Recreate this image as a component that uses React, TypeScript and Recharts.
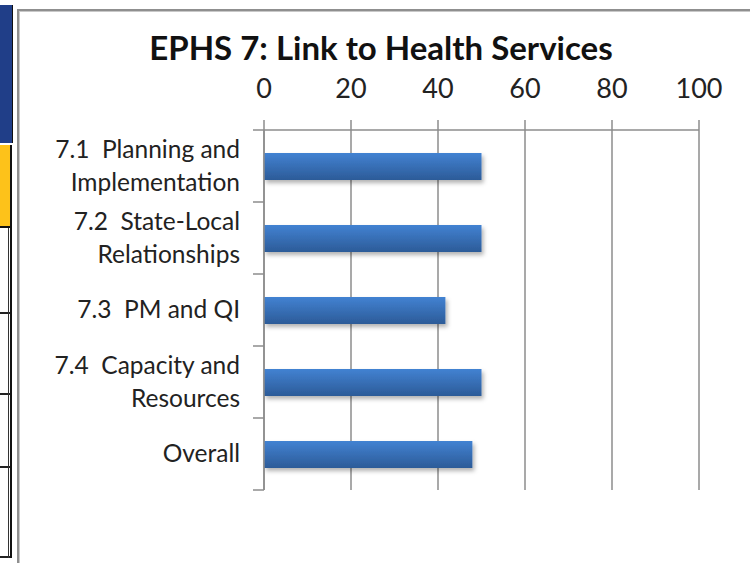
import React from "react";
import { Bar, BarChart, CartesianGrid, XAxis, YAxis } from "recharts";

const categories = [
  ["7.1  Planning and", "Implementation"],
  ["7.2  State-Local", "Relationships"],
  ["7.3  PM and QI"],
  ["7.4  Capacity and", "Resources"],
  ["Overall"],
];
const scores = [50, 50, 41.7, 50, 47.9];
const xTicks = [0, 20, 40, 60, 80, 100];

const data = categories.map((lines, i) => ({
  name: lines.join(" "),
  lines,
  score: scores[i],
}));

const CHART_W = 750;
const CHART_H = 563;
const margin = { top: 100, right: 51, bottom: 73, left: 0 };
const band = (CHART_H - margin.top - 30 - margin.bottom) / categories.length;

const gridColor = "#8c8c8c";
const textColor = "#222";
const labelSize = 24.5;

function CategoryTick(props: any) {
  const { x, y, payload, index } = props;
  const lines: string[] = data[index]?.lines ?? [payload.value];
  const tickX1 = x + 13;
  const tickX2 = x + 24;
  return (
    <g>
      <line x1={tickX1} x2={tickX2} y1={y - band / 2} y2={y - band / 2} stroke={gridColor} strokeWidth={1.5} />
      {index === categories.length - 1 && (
        <line x1={tickX1} x2={tickX2} y1={y + band / 2} y2={y + band / 2} stroke={gridColor} strokeWidth={1.5} />
      )}
      {lines.length === 1 ? (
        <text x={x} y={y + 8} textAnchor="end" fill={textColor} fontSize={labelSize} fontFamily="Lato" style={{ whiteSpace: "pre" }}>
          {lines[0]}
        </text>
      ) : (
        <text textAnchor="end" fill={textColor} fontSize={labelSize} fontFamily="Lato" style={{ whiteSpace: "pre" }}>
          <tspan x={x} y={y - 8}>{lines[0]}</tspan>
          <tspan x={x} y={y + 25}>{lines[1]}</tspan>
        </text>
      )}
    </g>
  );
}

export default function App() {
  return (
    <div style={{ position: "fixed", left: 0, top: 0, width: CHART_W, height: CHART_H, background: "#fff", overflow: "hidden" }}>
      {/* neighbouring spreadsheet cells on the left */}
      <div style={{ position: "absolute", left: 0, top: 5, width: 12, height: 138, background: "#203e88", borderRight: "1px solid #111" }} />
      <div style={{ position: "absolute", left: 0, top: 145, width: 10, height: 81, background: "#fdc21a", borderRight: "2px solid #111", borderBottom: "2px solid #111" }} />
      {[312, 393, 466, 556].map((t) => (
        <div key={t} style={{ position: "absolute", left: 0, top: t, width: 10, height: 2, background: "#222" }} />
      ))}
      <div style={{ position: "absolute", left: 8, top: 228, width: 1, height: 330, background: "#333" }} />
      <div style={{ position: "absolute", left: 10, top: 228, width: 2, height: 330, background: "#111" }} />
      {/* chart frame */}
      <div style={{ position: "absolute", left: 17, top: 9, width: 740, height: 600, borderLeft: "2px solid #8f8f8f", borderTop: "2px solid #8f8f8f", boxShadow: "inset 1px 1px 0 #c8c8c8" }} />
      <div
        style={{
          position: "absolute",
          left: 381,
          top: 27,
          transform: "translateX(-50%)",
          fontFamily: "Lato",
          fontWeight: 700,
          fontSize: 33,
          color: "#111",
          whiteSpace: "nowrap",
        }}
      >
        EPHS 7: Link to Health Services
      </div>
      <div style={{ position: "absolute", left: 0, top: 0 }}>
        <BarChart width={CHART_W} height={CHART_H} data={data} layout="vertical" margin={margin} barSize={27}>
          <defs>
            <linearGradient id="barFill" x1="0" y1="0" x2="0" y2="1">
              <stop offset="0%" stopColor="#4282d2" />
              <stop offset="100%" stopColor="#2c5b98" />
            </linearGradient>
            <filter id="barShadow" x="-5%" y="-20%" width="110%" height="160%">
              <feDropShadow dx="2" dy="3" stdDeviation="2" floodColor="#000" floodOpacity="0.3" />
            </filter>
          </defs>
          <CartesianGrid horizontal={false} stroke={gridColor} strokeWidth={1.5} />
          <XAxis
            type="number"
            orientation="top"
            domain={[0, 100]}
            ticks={xTicks}
            height={30}
            tickSize={10}
            tickMargin={22}
            stroke={gridColor}
            strokeWidth={1.5}
            tick={{ fill: textColor, fontSize: 27, fontFamily: "Lato" }}
            interval={0}
          />
          <YAxis
            type="category"
            dataKey="name"
            width={264}
            tickSize={11}
            tickMargin={13}
            tickLine={false}
            stroke={gridColor}
            strokeWidth={1.5}
            tick={<CategoryTick />}
            interval={0}
          />
          <Bar dataKey="score" fill="url(#barFill)" filter="url(#barShadow)" isAnimationActive={false} />
        </BarChart>
      </div>
    </div>
  );
}
